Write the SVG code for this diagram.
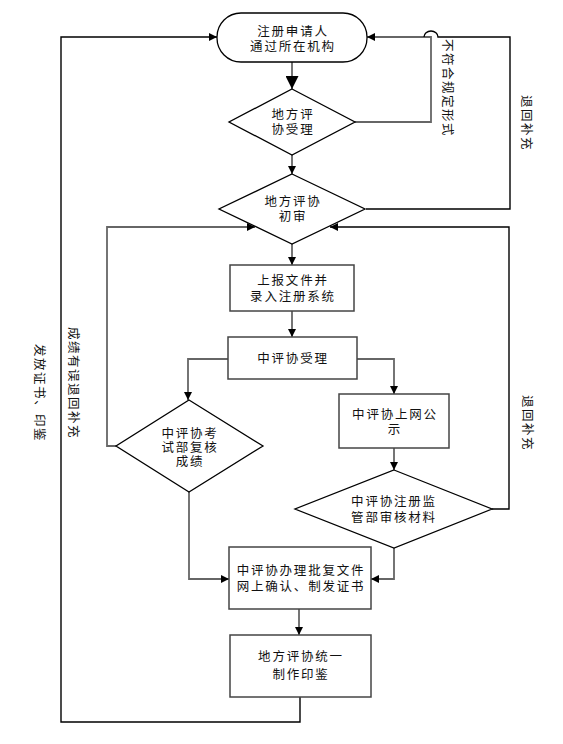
<svg xmlns="http://www.w3.org/2000/svg" width="563" height="744" viewBox="0 0 563 744">
<defs>
<marker id="ah" viewBox="0 0 10 10" refX="10" refY="5" markerWidth="8" markerHeight="8" markerUnits="userSpaceOnUse" orient="auto">
<path d="M0,0 L10,5 L0,10 Z" fill="#000"/>
</marker>
<marker id="ahBig" viewBox="0 0 10 10" refX="10" refY="5" markerWidth="13" markerHeight="13" markerUnits="userSpaceOnUse" orient="auto">
<path d="M0,0 L10,5 L0,10 Z" fill="#000"/>
</marker>
</defs>
<style>
text{font-family:"Noto Sans CJK SC","Noto Sans",sans-serif;font-size:12.5px;fill:#111;text-anchor:middle;letter-spacing:1.8px}
.shape{fill:#fff;stroke:#000;stroke-width:1.3}
.box{fill:#fff;stroke:#444;stroke-width:1.5}
.ln{fill:none;stroke:#000;stroke-width:1.4}
.lg{fill:none;stroke:#666;stroke-width:1.8}
.vt{dominant-baseline:central;letter-spacing:1.5px}
</style>
<rect width="563" height="744" fill="#fff"/>
<g id="connectors">
<path class="lg" d="M292,62 L292,89" marker-end="url(#ahBig)"/>
<path class="lg" d="M355,122 L431,122 L431,37 L367,37" marker-end="url(#ah)"/>
<path class="ln" d="M366,209 L510,209 L510,37 L438,37 A7,6 0 0 0 424,37" />
<path class="lg" d="M292,155 L292,174" marker-end="url(#ah)"/>
<path class="lg" d="M292,244 L292,265" marker-end="url(#ah)"/>
<path class="lg" d="M292,311 L292,337" marker-end="url(#ah)"/>
<path class="lg" d="M228,359 L188,359 L188,400" marker-end="url(#ah)"/>
<path class="lg" d="M357,359 L394,359 L394,394" marker-end="url(#ah)"/>
<path class="lg" d="M394,448 L394,470" marker-end="url(#ah)"/>
<path class="lg" d="M116,446 L107,446 L107,227 L255,227" marker-end="url(#ah)"/>
<path class="ln" d="M492,509 L509,509 L509,227 L330,227" marker-end="url(#ah)"/>
<path class="lg" d="M189,492 L189,579 L229,579" marker-end="url(#ah)"/>
<path class="lg" d="M394,548 L394,579 L371,579" marker-end="url(#ah)"/>
<path class="lg" d="M299,609 L299,635" marker-end="url(#ah)"/>
<path class="ln" d="M300,697 L300,722 L61,722 L61,37 L217,37" marker-end="url(#ah)"/>
</g>
<g id="n1">
<rect class="shape" x="217" y="13" width="150" height="49" rx="24" ry="24"/>
<text x="293" y="36">注册申请人</text>
<text x="293" y="51">通过所在机构</text>
</g>
<g id="n2">
<polygon class="shape" points="292,89 355,122 292,155 229,122"/>
<text x="293" y="119">地方评</text>
<text x="293" y="134">协受理</text>
</g>
<g id="n3">
<polygon class="shape" points="292,174 365,209 292,244 219,209"/>
<text x="293" y="206">地方评协</text>
<text x="293" y="221">初审</text>
</g>
<g id="n4">
<rect class="box" x="230" y="265" width="124" height="46"/>
<text x="293" y="285">上报文件并</text>
<text x="293" y="301">录入注册系统</text>
</g>
<g id="n5">
<rect class="box" x="228" y="337" width="129" height="42"/>
<text x="293" y="363">中评协受理</text>
</g>
<g id="n6">
<polygon class="shape" points="189,400 263,446 189,492 116,446"/>
<text x="190" y="438">中评协考</text>
<text x="190" y="452">试部复核</text>
<text x="190" y="466">成绩</text>
</g>
<g id="n7">
<rect class="box" x="339" y="394" width="110" height="54"/>
<text x="395" y="419">中评协上网公</text>
<text x="395" y="434">示</text>
</g>
<g id="n8">
<polygon class="shape" points="394,470 492,509 394,548 295,509"/>
<text x="394" y="506">中评协注册监</text>
<text x="394" y="522">管部审核材料</text>
</g>
<g id="n9">
<rect class="box" x="229" y="547" width="142" height="62"/>
<text x="301" y="575">中评协办理批复文件</text>
<text x="301" y="591">网上确认、制发证书</text>
</g>
<g id="n10">
<rect class="box" x="230" y="635" width="141" height="62"/>
<text x="301" y="661">地方评协统一</text>
<text x="301" y="679">制作印鉴</text>
</g>
<g id="labels">
<text class="vt" transform="translate(448,88) rotate(90)">不符合规定形式</text>
<text class="vt" transform="translate(527,123) rotate(90)">退回补充</text>
<text class="vt" transform="translate(528,423) rotate(90)">退回补充</text>
<text class="vt" transform="translate(74,383) rotate(90)">成绩有误退回补充</text>
<text class="vt" transform="translate(40,393) rotate(90)">发放证书、印鉴</text>
</g>
</svg>
